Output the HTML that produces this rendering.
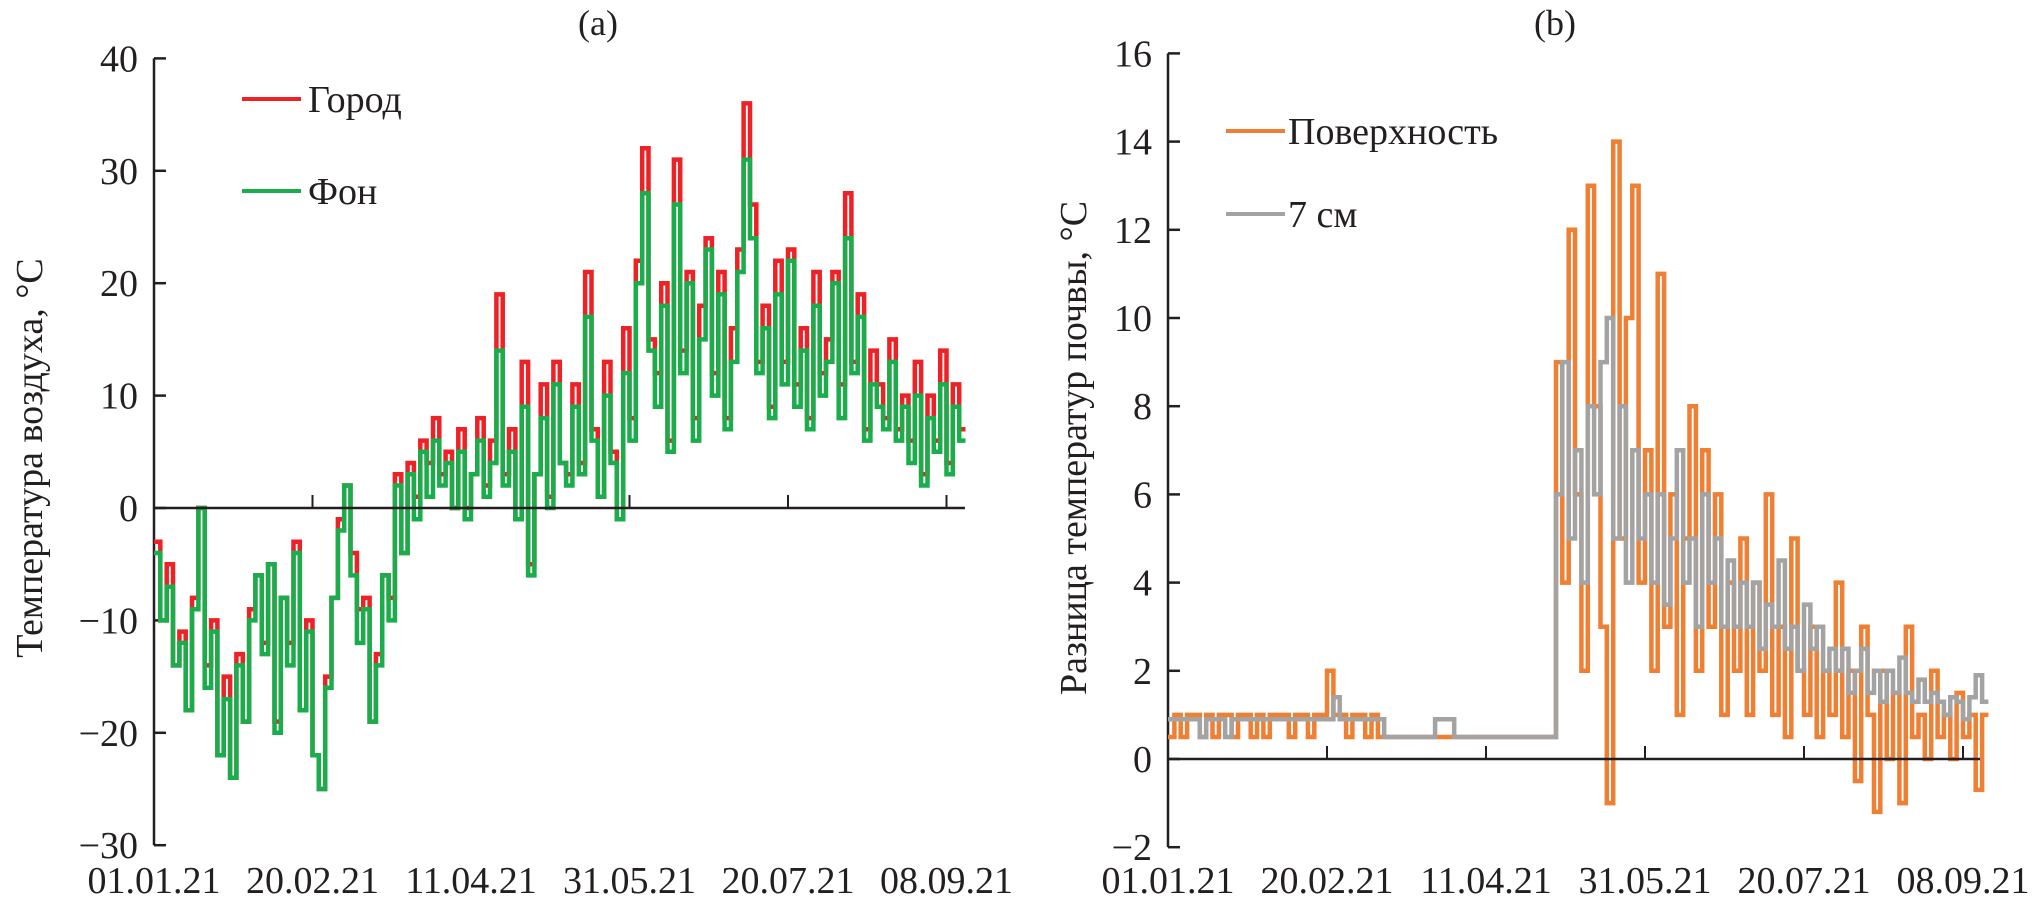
<!DOCTYPE html>
<html><head><meta charset="utf-8">
<style>
html,body{margin:0;padding:0;background:#fff;}
svg{display:block;}
text{font-family:"Liberation Serif","Noto Serif CJK SC",serif;fill:#231f20;}
</style></head>
<body>
<svg id="chart" width="2038" height="908" viewBox="0 0 2038 908">
  <g id="pa"></g>
  <g id="pb"></g>
</svg>
<script>
// ---- Panel (a): air temperature, 2-day steps from 01.01.21 ----
const aStep = 2;
const fonTemp = [-4,-10,-7,-14,-12,-18,-9,0,-16,-11,-22,-17,-24,-14,-19,-10,
 -6,-13,-5,-20,-8,-14,-4,-18,-11,-22,
 -25,-16,-8,-2,2,-6,-12,-9,-19,-14,
 -6,-10,2,-4,3,-1,5,1,6,2,
 4,0,5,-1,3,6,1,4,14,2,
 5,-1,9,-6,3,8,0,11,4,2,
 9,3,17,6,1,10,4,-1,12,6,
 20,28,14,9,18,5,27,12,20,6,
 15,23,10,19,7,13,21,31,24,12,
 16,8,19,11,22,9,14,7,18,10,
 13,20,8,24,12,17,6,11,9,7,
 13,6,9,4,10,2,8,5,11,3,9,6];
const cityDiff = [1,0,2,0,1,0,1,0,2,1,0,2,0,1,0,1,
 0,1,0,1,0,2,1,0,1,0,
 0,1,0,1,0,2,3,1,0,1,
 0,2,1,0,1,2,1,3,2,1,
 1,0,2,1,0,2,1,2,5,1,
 2,0,4,1,0,3,1,2,0,1,
 2,1,4,1,0,3,1,0,4,2,
 2,4,1,3,2,1,4,2,1,2,
 3,1,2,2,1,3,2,5,3,1,
 2,1,3,2,1,2,2,1,3,2,
 2,1,3,4,1,2,1,3,2,1,
 2,1,1,2,3,1,2,1,3,1,2,1];
const aYTicks = [40,30,20,10,0,-10,-20,-30];
const xTickLabels = ["01.01.21","20.02.21","11.04.21","31.05.21","20.07.21","08.09.21"];
const xTickDays = [0,50,100,150,200,250];

// ---- Panel (b): soil temperature difference ----
const surfDiff = [0.5,1,0.5,1,1,0.5,1,0.5,1,1,0.5,1,1,0.5,1,0.5,1,1,1,0.5,1,1,0.5,1,1,
 2,1,1,0.5,1,1,0.5,1,0.5,0.5,
 0.5,0.5,0.5,0.5,0.5,0.5,0.5,0.5,0.5,0.5,0.5,0.5,0.5,0.5,0.5,0.5,0.5,0.5,0.5,0.5,0.5,0.5,0.5,0.5,0.5,0.5,
 9,4,12,6,2,13,8,3,-1,14,5,10,13,4,7,
 2,11,3,6,1,5,8,2,7,3,6,1,4,2,5,
 1,4,2,6,1,3,0.5,5,2,1,3,0.5,2,1,4,
 0.5,2,-0.5,3,1,-1.2,2,0,1.5,-1,3,0.5,1,0,2,
 0.5,1,0,1.5,0.5,1,-0.7,1];
const depth7Diff = [0.9,0.9,0.9,0.9,0.9,0.5,0.9,0.9,0.9,0.5,0.9,0.9,0.9,0.9,0.9,0.9,0.9,0.9,0.9,0.9,0.9,0.9,0.9,0.9,0.9,
 0.9,1.4,0.9,0.9,0.9,0.9,0.9,0.9,0.9,0.5,
 0.5,0.5,0.5,0.5,0.5,0.5,0.5,0.9,0.9,0.9,0.5,0.5,0.5,0.5,0.5,0.5,0.5,0.5,0.5,0.5,0.5,0.5,0.5,0.5,0.5,0.5,
 6,9,5,7,4,8,6,9,10,5,8,4,7,5,6,
 4,6,3.5,5,7,4,5,3,6,4,5,3,4.5,3,4,
 3,4,2.5,3.5,3,4.5,2.5,3,2,3.5,2.5,3,2,2.5,2,
 2.5,1.5,2,2.5,1.5,2,1.3,2,1.5,2.3,1.5,1.3,1.8,1.3,1.5,
 1.3,1,1.4,1.3,0.9,1.4,1.9,1.3];
const bYTicks = [16,14,12,10,8,6,4,2,0,-2];

const NS="http://www.w3.org/2000/svg";
function mk(parent,tag,attrs){const e=document.createElementNS(NS,tag);for(const k in attrs)e.setAttribute(k,attrs[k]);parent.appendChild(e);return e;}

const axA = {x0:154, pxDay:3.17, y0:508, pxU:11.24, top:40, bot:-30, xEnd:965};
const axB = {x0:1168, pxDay:3.18, y0:759, pxU:44.1, top:16, bot:-2, xEnd:1980};
function xs(ax,d){return ax.x0+d*ax.pxDay;}
function ys(ax,v){return ax.y0-v*ax.pxU;}

function stepPath(ax,vals){
  let d="";
  for(let i=0;i<vals.length;i++){
    const x1=xs(ax,i*aStep), x2=xs(ax,(i+1)*aStep), y=ys(ax,vals[i]);
    d += (i===0?"M":"L")+x1.toFixed(1)+","+y.toFixed(1)+" L"+x2.toFixed(1)+","+y.toFixed(1)+" ";
  }
  return d;
}

function drawAxes(g,ax,yTicks,name){
  const yl=mk(g,"line",{x1:ax.x0,y1:ys(ax,ax.top),x2:ax.x0,y2:ys(ax,ax.bot),stroke:"#231f20","stroke-width":2.5});
  
  
  yTicks.forEach(v=>{
    const t=mk(g,"line",{x1:ax.x0,y1:ys(ax,v),x2:ax.x0+12,y2:ys(ax,v),stroke:"#231f20","stroke-width":2.5});
    
    
    const lab=mk(g,"text",{x:ax.x0-16,y:ys(ax,v)+13,"font-size":38,"text-anchor":"end"});
    lab.textContent=(v<0?"\u2212"+(-v):String(v));
    
    
  });
  xTickDays.forEach((d,i)=>{
    if(d>0){
      const t=mk(g,"line",{x1:xs(ax,d),y1:ax.y0,x2:xs(ax,d),y2:ax.y0-13,stroke:"#231f20","stroke-width":2});
      
      
    }
    const lab=mk(g,"text",{x:xs(ax,d),y:893,"font-size":38,"text-anchor":"middle"});
    lab.textContent=xTickLabels[i];
    
    
  });
}
function zeroLine(g,ax,name){
  const z=mk(g,"line",{x1:ax.x0,y1:ax.y0,x2:ax.xEnd,y2:ax.y0,stroke:"#231f20","stroke-width":2.5});
  
  
}

const pa=document.getElementById("pa");
drawAxes(pa,axA,aYTicks,"panel-a");
const cityVals=fonTemp.map((v,i)=>v+cityDiff[i]);
const pc=mk(pa,"path",{d:stepPath(axA,cityVals),fill:"none",stroke:"#ec2227","stroke-width":4.5});


const pf=mk(pa,"path",{d:stepPath(axA,fonTemp),fill:"none",stroke:"#19ad4b","stroke-width":4.5});


zeroLine(pa,axA,"panel-a");

const pb=document.getElementById("pb");
drawAxes(pb,axB,bYTicks,"panel-b");
const ps=mk(pb,"path",{d:stepPath(axB,surfDiff),fill:"none",stroke:"#ee7f33","stroke-width":4.5});


const pg=mk(pb,"path",{d:stepPath(axB,depth7Diff),fill:"none",stroke:"#a3a3a3","stroke-width":4.5});


zeroLine(pb,axB,"panel-b");

const s=document.getElementById("chart");
function T(x,y,txt,size,name,extra){const e=document.createElementNS(NS,"text");e.setAttribute("x",x);e.setAttribute("y",y);e.setAttribute("font-size",size);if(extra)for(const k in extra)e.setAttribute(k,extra[k]);e.textContent=txt;s.appendChild(e);


return e;}
function L(x1,x2,y,c,name){const e=document.createElementNS(NS,"line");e.setAttribute("x1",x1);e.setAttribute("x2",x2);e.setAttribute("y1",y);e.setAttribute("y2",y);e.setAttribute("stroke",c);e.setAttribute("stroke-width",4);s.appendChild(e);

}
T(598,35,"(a)",36,"panel-a-title",{"text-anchor":"middle"});
T(1555,35,"(b)",36,"panel-b-title",{"text-anchor":"middle"});
L(242,301,99,"#ec2227","legend-city-swatch");
T(308,112,"Город",38,"legend-city-label");
L(242,301,191,"#19ad4b","legend-background-swatch");
T(308,204,"Фон",38,"legend-background-label");
L(1226,1285,131,"#ee7f33","legend-surface-swatch");
T(1288,144,"Поверхность",38,"legend-surface-label");
L(1226,1285,214,"#a3a3a3","legend-7cm-swatch");
T(1288,227,"7 см",38,"legend-7cm-label");
T(0,0,"Температура воздуха, °C",38,"panel-a-y-axis-title",{"text-anchor":"middle","transform":"translate(42,458) rotate(-90)"});
T(0,0,"Разница температур почвы, °C",38,"panel-b-y-axis-title",{"text-anchor":"middle","transform":"translate(1086,448) rotate(-90)"});
</script>
</body></html>
